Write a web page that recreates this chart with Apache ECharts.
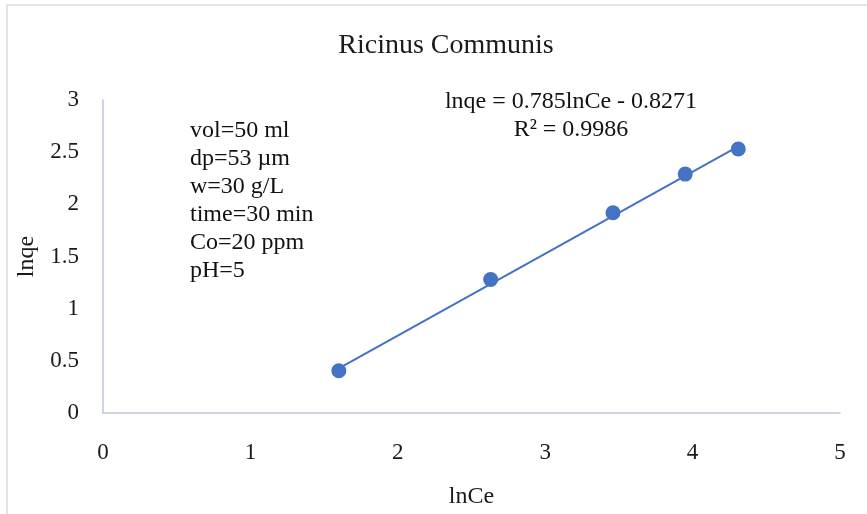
<!DOCTYPE html>
<html>
<head>
<meta charset="utf-8">
<script src="https://cdn.jsdelivr.net/npm/echarts@6/dist/echarts.min.js"></script>
<style>html,body{margin:0;padding:0;background:#fff;}#c{width:867px;height:514px;}</style>
</head>
<body>
<div id="c"></div>
<script>
// Data
const lnCe = [1.60, 2.63, 3.46, 3.95, 4.31];
const lnqe = [0.405, 1.28, 1.92, 2.29, 2.53];
const xTicks = [0, 1, 2, 3, 4, 5];
const yTicks = [0, 0.5, 1, 1.5, 2, 2.5, 3];
// Trendline from the printed equation
const slope = 0.785;
const intercept = -0.8271;
const equationText = 'lnqe = 0.785lnCe - 0.8271';
const r2Text = 'R² = 0.9986';
const conditions = ['vol=50 ml', 'dp=53 µm', 'w=30 g/L', 'time=30 min', 'Co=20 ppm', 'pH=5'];
const titleText = 'Ricinus Communis';

const FONT = '"Liberation Serif", "Times New Roman", serif';
const BLUE = '#4472C4';
const points = lnCe.map((x, i) => [x, lnqe[i]]);
const xMin = Math.min(...lnCe), xMax = Math.max(...lnCe);
const trend = [[xMin, slope * xMin + intercept], [xMax, slope * xMax + intercept]];

const chart = echarts.init(document.getElementById('c'), null, {renderer: 'canvas'});
chart.setOption({
  animation: false,
  backgroundColor: '#fff',
  title: {
    text: titleText,
    left: 441, top: 27, textAlign: 'center',
    textStyle: {fontFamily: FONT, fontSize: 28, fontWeight: 'normal', color: '#1a1a1a'}
  },
  grid: {left: 103, right: 27, top: 100, bottom: 101, containLabel: false},
  xAxis: {
    type: 'value', min: xTicks[0], max: xTicks[xTicks.length - 1], interval: 1,
    name: 'lnCe', nameLocation: 'middle', nameGap: 72, nameMoveOverlap: false,
    nameTextStyle: {fontFamily: FONT, fontSize: 24, color: '#1a1a1a'},
    axisLine: {show: true, onZero: false, lineStyle: {color: '#BFC7D8', width: 1.5}},
    axisTick: {show: false},
    splitLine: {show: false},
    axisLabel: {fontFamily: FONT, fontSize: 23, color: '#1a1a1a', margin: 28}
  },
  yAxis: {
    type: 'value', min: yTicks[0], max: yTicks[yTicks.length - 1], interval: 0.5,
    name: 'lnqe', nameLocation: 'middle', nameGap: 64, nameMoveOverlap: false,
    nameTextStyle: {fontFamily: FONT, fontSize: 24, color: '#1a1a1a'},
    axisLine: {show: true, onZero: false, lineStyle: {color: '#BFC7D8', width: 1.5}},
    axisTick: {show: false},
    splitLine: {show: false},
    axisLabel: {fontFamily: FONT, fontSize: 23, color: '#1a1a1a', margin: 24}
  },
  graphic: [
    {type: 'rect', silent: true, z: -10,
     shape: {x: 7, y: 5, width: 900, height: 600},
     style: {fill: null, stroke: '#D9DDE6', lineWidth: 1.5}},
    {type: 'text', left: 190, top: 117,
     style: {text: conditions.join('\n'), font: '24px ' + FONT, lineHeight: 28, fill: '#111'}},
    {type: 'text', x: 571, y: 88,
     style: {text: equationText + '\n' + r2Text, font: '24px ' + FONT, lineHeight: 28, fill: '#111', align: 'center'}}
  ],
  series: [
    {type: 'line', data: trend, showSymbol: false, symbol: 'none', z: 2,
     lineStyle: {color: BLUE, width: 2}, silent: true},
    {type: 'scatter', data: points, symbolSize: 15, z: 3,
     itemStyle: {color: BLUE, opacity: 1}}
  ]
});
</script>
</body>
</html>
